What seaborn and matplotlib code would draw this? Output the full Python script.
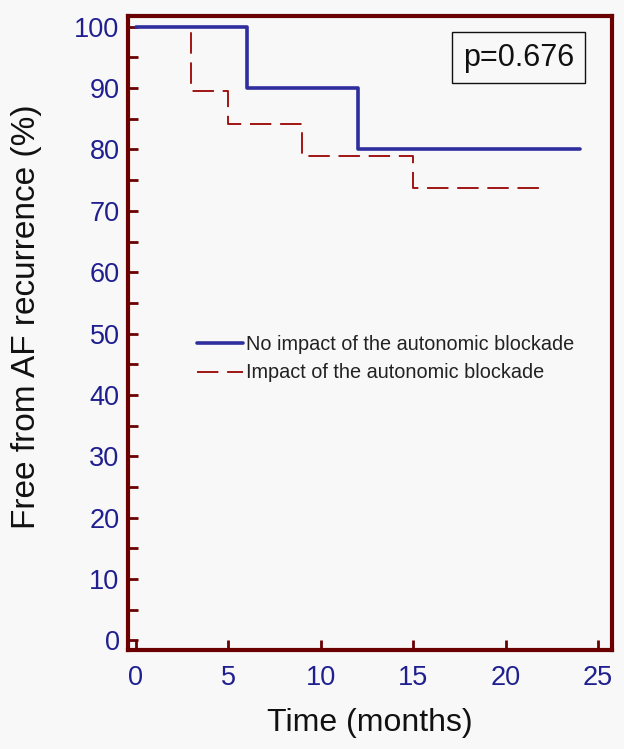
import matplotlib
matplotlib.use("Agg")
import matplotlib.pyplot as plt
import seaborn as sns
import pandas as pd
from matplotlib.ticker import MultipleLocator

# Data (step points, Kaplan-Meier style)
time_no = [0, 6, 12, 24]
surv_no = [100, 90, 80, 80]
time_imp = [0, 3, 5, 9, 15, 22]
surv_imp = [100, 89.5, 84.2, 78.9, 73.7, 73.7]
label_no = "No impact of the autonomic blockade"
label_imp = "Impact of the autonomic blockade"
x_ticks = [0, 5, 10, 15, 20, 25]
y_ticks = [0, 10, 20, 30, 40, 50, 60, 70, 80, 90, 100]

df = pd.concat([
    pd.DataFrame({"Time": time_no, "Surv": surv_no, "Group": label_no}),
    pd.DataFrame({"Time": time_imp, "Surv": surv_imp, "Group": label_imp}),
])

sns.set_theme(style="white")
plt.rcParams["font.family"] = ["Liberation Sans", "DejaVu Sans"]

bg = "#F8F8F8"
spine_c = "#6B0000"
tick_c = "#1F1F8F"
fig = plt.figure(figsize=(6.24, 7.49), dpi=100, facecolor=bg)
ax = fig.add_axes([0.205, 0.132, 0.776, 0.847], facecolor=bg)

# draw dashed first so solid overlays it
sns.lineplot(data=df[df.Group == label_imp], x="Time", y="Surv", ax=ax,
             drawstyle="steps-post", color="#A01515", lw=1.4,
             dashes=False, label=label_imp, estimator=None)
ax.lines[-1].set_dashes((11, 4.5))
sns.lineplot(data=df[df.Group == label_no], x="Time", y="Surv", ax=ax,
             drawstyle="steps-post", color="#2E2E9E", lw=2.6,
             label=label_no, estimator=None)

ax.set_xlim(-0.43, 25.76)
ax.set_ylim(-1.6, 101.8)
ax.set_xticks(x_ticks)
ax.set_yticks(y_ticks)
ax.yaxis.set_minor_locator(MultipleLocator(5))
ax.tick_params(axis="both", which="major", direction="in", length=7, width=2,
               color=spine_c, labelcolor=tick_c, labelsize=19.5, pad=6)
ax.tick_params(axis="y", which="minor", direction="in", length=7, width=2,
               color=spine_c, left=True)
ax.tick_params(axis="y", which="major", left=True)
ax.tick_params(axis="x", which="major", bottom=True, pad=11)
for s in ax.spines.values():
    s.set_color(spine_c)
    s.set_linewidth(3)

ax.set_xlabel("Time (months)", fontsize=23, color="#111111", labelpad=12)
ax.set_ylabel("Free from AF recurrence (%)", fontsize=24, color="#111111")
ax.yaxis.set_label_coords(-0.178, 0.525)

h, l = ax.get_legend_handles_labels()
order = [l.index(label_no), l.index(label_imp)]
leg = ax.legend([h[i] for i in order], [l[i] for i in order],
                loc="upper left", bbox_to_anchor=(0.126, 0.51), frameon=False,
                fontsize=14.3, handlelength=2.3, handletextpad=0.15,
                labelspacing=0.5, borderaxespad=0)
for t in leg.get_texts():
    t.set_color("#222222")

ax.text(0.807, 0.934, "p=0.676", transform=ax.transAxes, ha="center", va="center",
        fontsize=22, color="#111111",
        bbox=dict(boxstyle="square,pad=0.35", fc=bg, ec="#111111", lw=1))

fig.savefig("out.png", dpi=100, facecolor=bg)
